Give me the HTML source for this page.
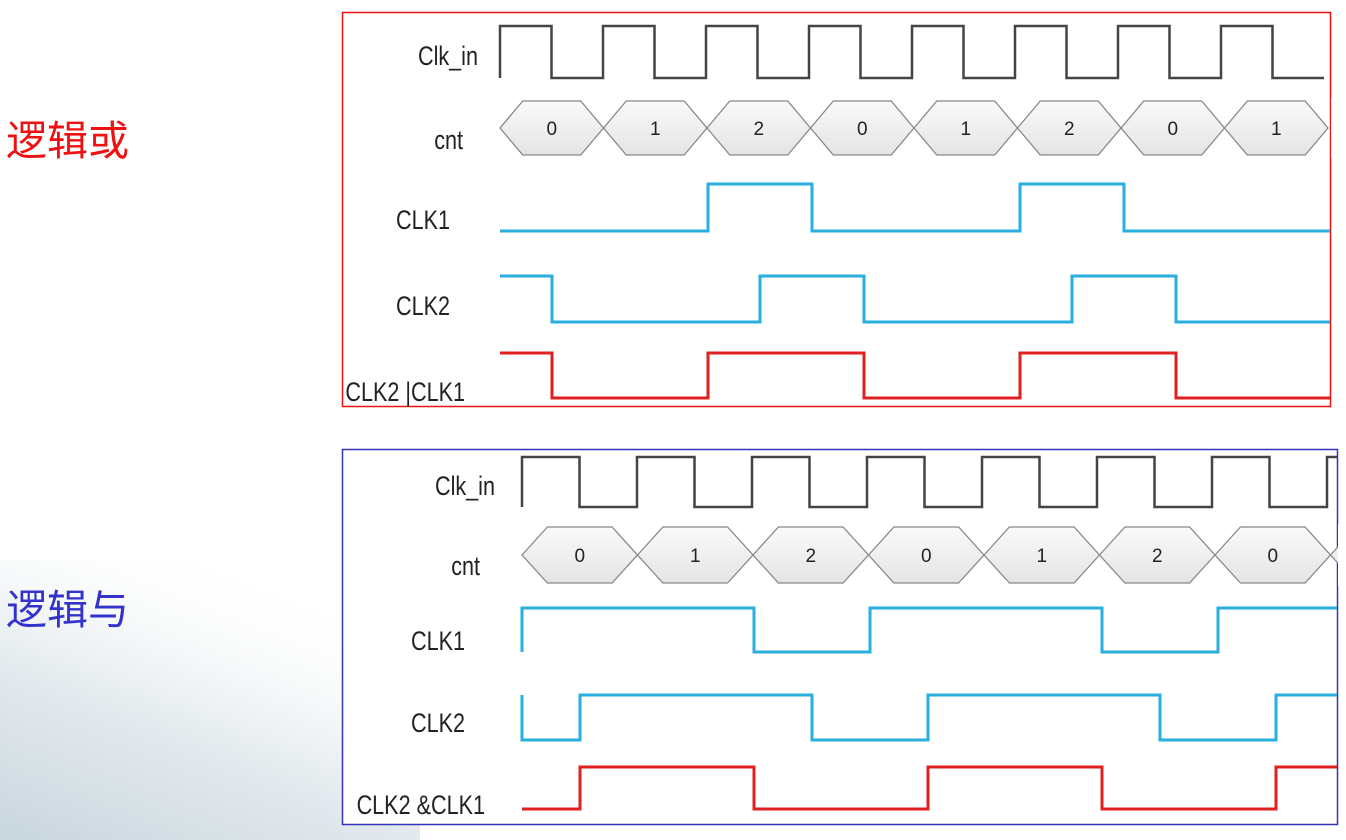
<!DOCTYPE html>
<html><head><meta charset="utf-8"><style>
html,body{margin:0;padding:0;width:1346px;height:840px;overflow:hidden;background:#fff;font-family:"Liberation Sans","Noto Sans CJK SC",sans-serif}
svg{position:absolute;left:0;top:0}
</style></head><body>
<svg id="s" width="1346" height="840" viewBox="0 0 1346 840">
<defs>
<linearGradient id="bg" x1="0" y1="1" x2="0.6" y2="0">
<stop offset="0" stop-color="#c9d6de"/><stop offset="0.5" stop-color="#e6ecef"/><stop offset="1" stop-color="#ffffff" stop-opacity="0"/>
</linearGradient>
<linearGradient id="hex" x1="0" y1="0" x2="0" y2="1"><stop offset="0" stop-color="#fafafa"/><stop offset="1" stop-color="#e4e4e4"/></linearGradient>
</defs>
<rect x="0" y="560" width="420" height="280" fill="url(#bg)"/>
<text x="6" y="155" font-size="41" fill="#ee1111">逻辑或</text>
<text x="6" y="624" font-size="41" fill="#3333cc">逻辑与</text>
<rect x="342.5" y="12.5" width="988" height="394" fill="#fff" stroke="#ee1111" stroke-width="1.5"/>
<rect x="342.5" y="449.5" width="995" height="375" fill="#fff" stroke="#3333bb" stroke-width="1.5"/>
<g id="top"></g><g id="bot"></g>
</svg>
<script>
// top diagram (logic OR): levels per half-clock period
const topClkIn=[1,0,1,0,1,0,1,0,1,0,1,0,1,0,1,0];
const topCnt=[0,1,2,0,1,2,0,1];
const topClk1=[0,0,0,0,1,1,0,0,0,0,1,1,0,0,0,0];
const topClk2=[1,0,0,0,0,1,1,0,0,0,0,1,1,0,0,0];
const topOr=[1,0,0,0,1,1,1,0,0,0,1,1,1,0,0,0];
// bottom diagram (logic AND)
const botClkIn=[1,0,1,0,1,0,1,0,1,0,1,0,1,0,1];
const botCnt=[0,1,2,0,1,2,0,1];
const botClk1=[1,1,1,1,0,0,1,1,1,1,0,0,1,1,1];
const botClk2=[0,1,1,1,1,0,0,1,1,1,1,0,0,1,1];
const botAnd=[0,1,1,1,0,0,0,1,1,1,0,0,0,1,1];

const NS='http://www.w3.org/2000/svg';
function mk(tag,attrs,parent){const e=document.createElementNS(NS,tag);for(const k in attrs)e.setAttribute(k,attrs[k]);parent.appendChild(e);return e;}

function wave(g,levels,x0,half,xEnd,yHi,yLo,color,name,startEdge){
  const y=l=>l?yHi:yLo;
  let d=startEdge?('M'+x0+' '+y(1-levels[0])+' L'+x0+' '+y(levels[0])):('M'+x0+' '+y(levels[0]));
  for(let i=0;i<levels.length;i++){
    const xs=x0+i*half;
    if(i>0&&levels[i]!==levels[i-1]) d+=' L'+xs+' '+y(levels[i]);
    const xe=(i===levels.length-1)?xEnd:Math.min(x0+(i+1)*half,xEnd);
    d+=' L'+xe+' '+y(levels[i]);
  }
  const p=mk('path',{d:d,fill:'none',stroke:color,'stroke-width':3},g);
  
  
}
function clk(g,levels,x0,half,xEnd,yHi,yLo,name){
  let d='M'+x0+' '+yLo;
  for(let i=0;i<levels.length;i++){
    const xs=x0+i*half,yy=levels[i]?yHi:yLo;
    d+=' L'+xs+' '+yy;
    d+=' L'+Math.min(xs+half,xEnd)+' '+yy;
  }
  const p=mk('path',{d:d,fill:'none',stroke:'#444','stroke-width':2.5},g);
  
  
}
function hexes(g,vals,x0,w,xEnd,yT,yB,name){
  const ym=(yT+yB)/2,s=w*0.22;
  vals.forEach((v,i)=>{
    const a=x0+i*w,b=a+w;
    const pts=[[a,ym],[a+s,yT],[b-s,yT],[b,ym],[b-s,yB],[a+s,yB]];
    const pg=mk('polygon',{points:pts.map(p=>p.join(',')).join(' '),fill:'url(#hex)',stroke:'#888','stroke-width':1.3},g);
    
    
    const t=mk('text',{x:a+w/2,y:ym+7,'font-size':19,'text-anchor':'middle',fill:'#222'},g);
    t.textContent=v;
    
    
  });
  mk('rect',{x:xEnd+1,y:yT-3,width:20,height:yB-yT+6,fill:'#fff'},g);
}
function label(g,txt,xr,y,name){
  const t=mk('text',{x:0,y:0,'font-size':27,fill:'#222','text-anchor':'end',transform:'translate('+xr+','+y+') scale(0.8,1)'},g);
  t.textContent=txt;
  
  
}
const T=document.getElementById('top'),B=document.getElementById('bot');
// top
clk(T,topClkIn,500,51.5,1325,26,78,'or-clk-in-wave');
hexes(T,topCnt,500,103.5,1330,101,155,'or-cnt');
wave(T,topClk1,500,52,1330,184,231,'#29aee0','or-clk1-wave',false);
wave(T,topClk2,500,52,1330,276,322,'#29aee0','or-clk2-wave',false);
wave(T,topOr,500,52,1330,353,398,'#e02020','or-result-wave',false);
label(T,'Clk_in',478,65,'or-clk-in-label');
label(T,'cnt',463,149,'or-cnt-label');
label(T,'CLK1',450,229,'or-clk1-label');
label(T,'CLK2',450,315,'or-clk2-label');
label(T,'CLK2 |CLK1',465,401,'or-result-label');
// bottom
clk(B,botClkIn,522,57.5,1337,457,507,'and-clk-in-wave');
hexes(B,botCnt,522,115.5,1337,527,583,'and-cnt');
wave(B,botClk1,522,58,1337,608,652,'#29aee0','and-clk1-wave',true);
wave(B,botClk2,522,58,1337,695,740,'#29aee0','and-clk2-wave',true);
wave(B,botAnd,522,58,1337,767,809,'#e02020','and-result-wave',false);
label(B,'Clk_in',495,495,'and-clk-in-label');
label(B,'cnt',480,575,'and-cnt-label');
label(B,'CLK1',465,650,'and-clk1-label');
label(B,'CLK2',465,732,'and-clk2-label');
label(B,'CLK2 &CLK1',485,814,'and-result-label');
</script>
</body></html>
